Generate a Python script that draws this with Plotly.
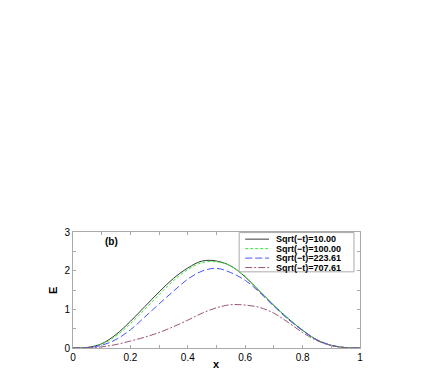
import plotly.graph_objects as go

x = [0.00, 0.05, 0.10, 0.15, 0.20, 0.25, 0.30, 0.35, 0.40, 0.45, 0.50,
     0.55, 0.60, 0.65, 0.70, 0.75, 0.80, 0.85, 0.90, 0.95, 1.00]

e_10 = [0, 0.015, 0.11, 0.35, 0.69, 1.07, 1.45, 1.80, 2.07, 2.25, 2.25,
        2.12, 1.84, 1.47, 1.10, 0.76, 0.46, 0.21, 0.07, 0.01, 0]
e_100 = [0, 0.01, 0.10, 0.31, 0.63, 1.00, 1.38, 1.74, 2.03, 2.21, 2.23,
         2.12, 1.85, 1.48, 1.11, 0.76, 0.46, 0.21, 0.07, 0.01, 0]
e_223 = [0, 0.01, 0.07, 0.22, 0.47, 0.80, 1.14, 1.47, 1.78, 1.99, 2.06,
         1.95, 1.75, 1.44, 1.08, 0.74, 0.45, 0.21, 0.07, 0.01, 0]
e_707 = [0, 0.005, 0.03, 0.09, 0.18, 0.28, 0.40, 0.55, 0.72, 0.90, 1.04,
         1.12, 1.11, 1.05, 0.90, 0.66, 0.40, 0.19, 0.06, 0.01, 0]

names = ["Sqrt(\u2212t)=10.00", "Sqrt(\u2212t)=100.00",
         "Sqrt(\u2212t)=223.61", "Sqrt(\u2212t)=707.61"]
series = [e_10, e_100, e_223, e_707]
colors = ["#3a3a3a", "#33ee33", "#4455ff", "#995577"]
dashes = ["solid", "3px,2px", "7px,3px", "7px,2px,2px,2px"]

x_ticks = [0.1 * i for i in range(11)]
x_labels = ["0", "", "0.2", "", "0.4", "", "0.6", "", "0.8", "", "1"]
y_ticks = [0.5 * i for i in range(7)]
y_labels = ["0", "", "1", "", "2", "", "3"]

fig = go.Figure()
for ys, nm, c, d in zip(series, names, colors, dashes):
    fig.add_trace(go.Scatter(x=x, y=ys, mode="lines", name=nm,
                             line=dict(color=c, width=1, dash=d,
                                       shape="spline", smoothing=1.0),
                             showlegend=False))

axis_common = dict(showline=True, mirror="allticks", linecolor="#aaaaaa",
                   linewidth=1, ticks="inside", ticklen=3, tickcolor="#aaaaaa",
                   showgrid=False, zeroline=False,
                   tickfont=dict(family="Liberation Sans", size=10, color="black"))

fig.update_xaxes(range=[0, 1], tickmode="array", tickvals=x_ticks,
                 ticktext=x_labels, **axis_common)
fig.update_yaxes(range=[0, 3], tickmode="array", tickvals=y_ticks,
                 ticktext=y_labels, **axis_common)

shapes = []
annotations = []
# legend box
shapes.append(dict(type="rect", xref="x", yref="y", x0=0.579, x1=0.979,
                   y0=1.97, y1=2.985, line=dict(color="#aaaaaa", width=1),
                   fillcolor="white", layer="above"))
rows = [2.815, 2.57, 2.325, 2.08]
for ry, nm, c, d in zip(rows, names, colors, dashes):
    shapes.append(dict(type="line", xref="x", yref="y", x0=0.600, x1=0.683,
                       y0=ry, y1=ry, line=dict(color=c, width=1, dash=d),
                       layer="above"))
    annotations.append(dict(x=0.700, y=ry, xref="x", yref="y", text="<b>" + nm + "</b>",
                            showarrow=False, xanchor="left", yanchor="middle",
                            font=dict(family="Liberation Sans", size=9, color="black")))

annotations.append(dict(x=(111.7 - 73) / 287, y=(348.3 - 241.7) / 38.8, xref="x", yref="y",
                        text="<b>(b)</b>", showarrow=False, xanchor="center",
                        yanchor="middle",
                        font=dict(family="Liberation Sans", size=10, color="black")))
annotations.append(dict(x=0.5, y=-0.135, xref="paper", yref="paper", text="<b>x</b>",
                        showarrow=False, xanchor="center", yanchor="middle",
                        font=dict(family="Liberation Sans", size=11, color="black")))
annotations.append(dict(x=-0.07, y=0.5, xref="paper", yref="paper", text="<b>E</b>",
                        showarrow=False, xanchor="center", yanchor="middle",
                        textangle=-90,
                        font=dict(family="Liberation Sans", size=11, color="black")))

# page body has an 8px margin, so the figure is offset by 8px
fig.update_layout(width=420, height=366,
                  margin=dict(l=65, r=68, t=224, b=26, pad=0),
                  paper_bgcolor="white", plot_bgcolor="white",
                  shapes=shapes, annotations=annotations, showlegend=False)

fig.write_html("out.html")
